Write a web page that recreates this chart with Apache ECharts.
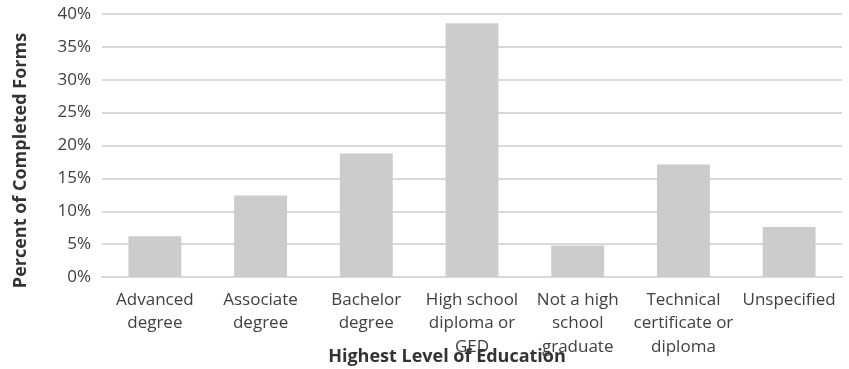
<!DOCTYPE html>
<html>
<head>
<meta charset="utf-8">
<script src="https://cdn.jsdelivr.net/npm/echarts@6/dist/echarts.min.js"></script>
<style>
html,body{margin:0;padding:0;background:#fff;}
#chart{width:849px;height:369px;}
</style>
</head>
<body>
<div id="chart"></div>
<script>
const categories = [
  "Advanced\ndegree",
  "Associate\ndegree",
  "Bachelor\ndegree",
  "High school\ndiploma or\nGED",
  "Not a high\nschool\ngraduate",
  "Technical\ncertificate or\ndiploma",
  "Unspecified"
];
const percentValues = [6.2, 12.4, 18.8, 38.6, 4.8, 17.1, 7.6];
const yTicks = { min: 0, max: 40, interval: 5 };
const xAxisTitle = "Highest Level of Education";
const yAxisTitle = "Percent of Completed Forms";

const font = "'Open Sans', sans-serif";
const chart = echarts.init(document.getElementById('chart'));
chart.setOption({
  animation: false,
  backgroundColor: '#ffffff',
  grid: { left: 102, right: 7, top: 14, bottom: 92, containLabel: false, outerBoundsMode: 'none' },
  xAxis: {
    type: 'category',
    data: categories,
    name: xAxisTitle,
    nameLocation: 'middle',
    nameGap: 71,
    nameMoveOverlap: false,
    nameTextStyle: { fontFamily: font, fontSize: 18, fontWeight: 'bold', color: '#333333', padding: [0, 50, 0, 0] },
    axisTick: { show: false },
    axisLine: { lineStyle: { color: '#d9d9d9', width: 2 } },
    axisLabel: { interval: 0, fontFamily: font, fontSize: 17, color: '#404040', lineHeight: 23.5, margin: 11 }
  },
  yAxis: {
    type: 'value',
    min: yTicks.min,
    max: yTicks.max,
    interval: yTicks.interval,
    name: yAxisTitle,
    nameLocation: 'middle',
    nameGap: 72,
    nameMoveOverlap: false,
    nameTextStyle: { fontFamily: font, fontSize: 18, fontWeight: 'bold', color: '#333333', padding: [0, 30, 0, 0] },
    axisLine: { show: false },
    axisTick: { show: false },
    splitLine: { lineStyle: { color: '#d9d9d9', width: 2 } },
    axisLabel: { formatter: '{value}%', fontFamily: font, fontSize: 17, color: '#404040', margin: 11 }
  },
  series: [{
    type: 'bar',
    data: percentValues,
    barWidth: '50%',
    itemStyle: { color: '#cccccc' }
  }]
});
</script>
</body>
</html>
